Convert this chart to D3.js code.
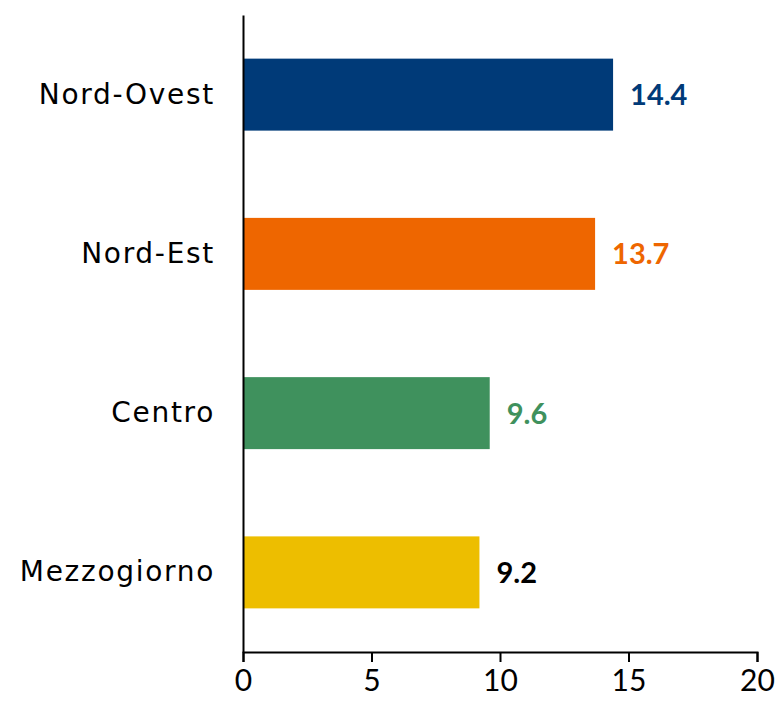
<!DOCTYPE html>
<html>
<head>
<meta charset="utf-8">
<script src="https://cdn.jsdelivr.net/npm/d3@7"></script>
<style>
  body { margin: 0; background: #fff; }
  text { font-family: "Lato", "DejaVu Sans", sans-serif; }
</style>
</head>
<body>
<svg id="chart" width="778" height="705"></svg>
<script>
// data
const categories = ["Nord-Ovest", "Nord-Est", "Centro", "Mezzogiorno"]
const values = [14.4, 13.7, 9.6, 9.2]
const barColors = ["#003a78", "#ee6600", "#3f915d", "#edbe00"]
const labelColors = ["#003a78", "#ee6600", "#3f915d", "#000000"]
const xTicks = [0, 5, 10, 15, 20]

const svg = d3.select("#chart")
const margin = { left: 243, right: 21, top: 15, bottom: 53 }
const width = 778, height = 705

const x = d3.scaleLinear().domain([0, 20]).range([margin.left, width - margin.right])
const y = d3.scaleBand()
  .domain(categories)
  .range([margin.top, height - margin.bottom])
  .paddingInner(0.548)
  .paddingOuter(0.274)

// bars
svg.append("g")
  .selectAll("rect")
  .data(values)
  .enter()
  .append("rect")
  .attr("x", x(0))
  .attr("y", (d, i) => y(categories[i]))
  .attr("width", (d) => x(d) - x(0))
  .attr("height", y.bandwidth())
  .attr("fill", (d, i) => barColors[i])

// value labels
svg.append("g")
  .selectAll("text")
  .data(values)
  .enter()
  .append("text")
  .attr("x", (d) => x(d) + 17)
  .attr("y", (d, i) => y(categories[i]) + y.bandwidth() / 2)
  .attr("dy", "0.36em")
  .style("font-size", "29px")
  .style("font-weight", "bold")
  .style("fill", (d, i) => labelColors[i])
  .text((d) => d.toFixed(1))

// x axis
const xAxis = svg.append("g")
  .attr("transform", `translate(0, ${height - margin.bottom})`)
  .call(d3.axisBottom(x).tickValues(xTicks).tickSize(10).tickPadding(8).tickFormat(d3.format("d")))
xAxis.select(".domain").attr("stroke", "#000").attr("stroke-width", 2)
xAxis.selectAll(".tick line").attr("stroke", "#000").attr("stroke-width", 2)
xAxis.selectAll(".tick text").style("font-size", "30px").style("font-family", "Lato, 'DejaVu Sans', sans-serif").attr("fill", "#000")

// y axis, category names in a wider face
const yAxis = svg.append("g")
  .attr("transform", `translate(${margin.left}, 0)`)
  .call(d3.axisLeft(y).tickSize(0).tickPadding(28))
yAxis.select(".domain").attr("stroke", "#000").attr("stroke-width", 2)
yAxis.selectAll(".tick text")
  .style("font-size", "28px")
  .style("font-family", "'DejaVu Sans', sans-serif")
  .style("letter-spacing", "1.7px")
  .attr("fill", "#000")
</script>
</body>
</html>
